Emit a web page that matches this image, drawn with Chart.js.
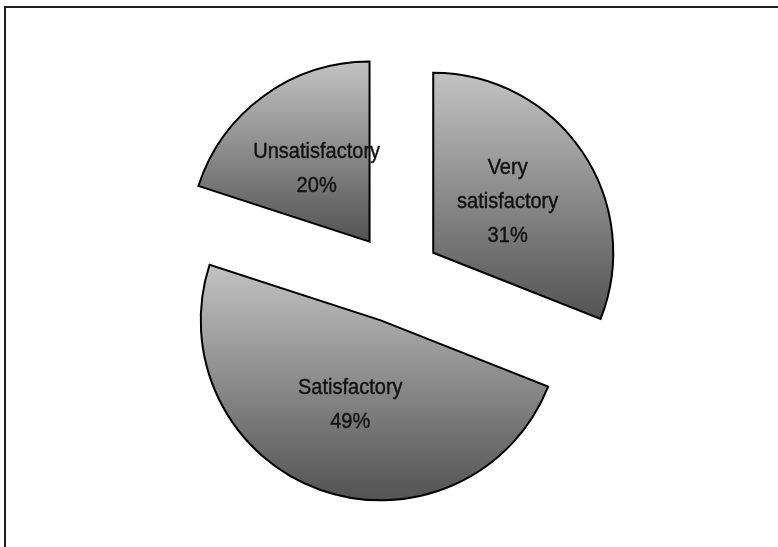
<!DOCTYPE html>
<html>
<head>
<meta charset="utf-8">
<script src="https://cdn.jsdelivr.net/npm/chart.js@4/dist/chart.umd.min.js"></script>
<style>
  html, body { margin: 0; padding: 0; background: #fff; overflow: hidden; }
  #wrap { position: relative; width: 778px; height: 547px; }
  #frame { position: absolute; left: 4px; top: 6px; width: 900px; height: 700px;
           border-top: 2px solid #1e1e1e; border-left: 2px solid #1e1e1e; pointer-events: none; }
  canvas { position: absolute; left: 0; top: 0; }
</style>
</head>
<body>
<div id="wrap">
  <canvas id="c" width="778" height="547"></canvas>
  <div id="frame"></div>
</div>
<script>
// ---- data ----
const categories = ['Very satisfactory', 'Satisfactory', 'Unsatisfactory'];
const shares = [31, 49, 20];
const percentLabels = ['31%', '49%', '20%'];

// ---- style constants ----
const RADIUS = 180;
const EXPLODE = 45;
const GRAD_TOP = '#c2c2c2';
const GRAD_BOTTOM = '#535353';

function sliceAngles(i) {
  const total = shares.reduce((a, b) => a + b, 0);
  let before = 0;
  for (let k = 0; k < i; k++) before += shares[k];
  const start = -Math.PI / 2 + 2 * Math.PI * before / total;
  const end = start + 2 * Math.PI * shares[i] / total;
  return [start, end];
}

function gradientFor(context) {
  const chart = context.chart;
  const ca = chart.chartArea;
  if (!ca || context.dataIndex === undefined) return '#999';
  const cx = (ca.left + ca.right) / 2, cy = (ca.top + ca.bottom) / 2;
  const [s, e] = sliceAngles(context.dataIndex);
  let minY = cy, maxY = cy;
  for (let k = 0; k <= 60; k++) {
    const a = s + (e - s) * k / 60;
    const y = cy + RADIUS * Math.sin(a);
    minY = Math.min(minY, y); maxY = Math.max(maxY, y);
  }
  const g = chart.ctx.createLinearGradient(0, minY, 0, maxY);
  g.addColorStop(0, GRAD_TOP);
  g.addColorStop(1, GRAD_BOTTOM);
  return g;
}

const explodePlugin = {
  id: 'explodePlugin',
  beforeDatasetsDraw(chart) {
    const ctx = chart.ctx;
    const meta = chart.getDatasetMeta(0);
    meta.data.forEach(arc => {
      const a = (arc.startAngle + arc.endAngle) / 2;
      ctx.save();
      ctx.translate(Math.cos(a) * EXPLODE, Math.sin(a) * EXPLODE);
      arc.draw(ctx);
      ctx.restore();
    });
    return false;
  },
  afterDraw(chart) {
    const ctx = chart.ctx;
    const meta = chart.getDatasetMeta(0);
    const lineH = 34;
    const sx = 0.91;
    meta.data.forEach((arc, i) => {
      const a = (arc.startAngle + arc.endAngle) / 2;
      const d = EXPLODE + arc.outerRadius * 0.5;
      const x = arc.x + Math.cos(a) * d;
      const y = arc.y + Math.sin(a) * d;
      const lines = categories[i].split(' ').concat([percentLabels[i]]);
      const y0 = y - (lines.length - 1) * lineH / 2;
      lines.forEach((t, k) => {
        ctx.save();
        ctx.translate(x, y0 + k * lineH);
        ctx.scale(sx, 1);
        ctx.font = '22px "Liberation Sans", Arial, sans-serif';
        ctx.fillStyle = '#111';
        ctx.strokeStyle = '#111';
        ctx.lineWidth = 0.4;
        ctx.textAlign = 'center';
        ctx.textBaseline = 'middle';
        ctx.fillText(t, 0, 0);
        ctx.strokeText(t, 0, 0);
        ctx.restore();
      });
    });
  }
};

new Chart(document.getElementById('c'), {
  type: 'pie',
  data: {
    labels: categories,
    datasets: [{
      data: shares,
      backgroundColor: gradientFor,
      borderColor: '#000',
      borderWidth: 2,
      borderJoinStyle: 'miter',
      offset: 0
    }]
  },
  options: {
    responsive: false,
    animation: false,
    radius: RADIUS,
    layout: { padding: { left: 14, right: 0, top: 9, bottom: 0 } },
    plugins: {
      legend: { display: false },
      tooltip: { enabled: false }
    }
  },
  plugins: [explodePlugin]
});
</script>
</body>
</html>
